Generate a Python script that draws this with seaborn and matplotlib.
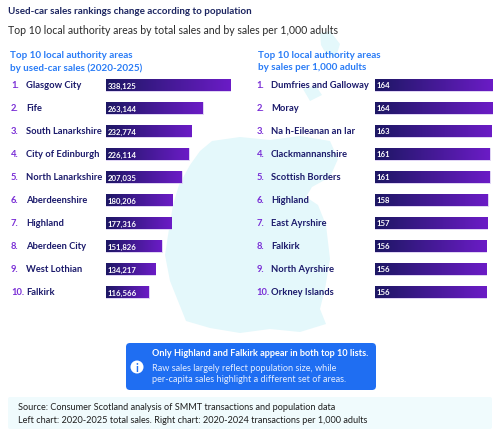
import numpy as np
import pandas as pd
import matplotlib
matplotlib.use("Agg")
import matplotlib.pyplot as plt
import seaborn as sns
from matplotlib.colors import LinearSegmentedColormap
from matplotlib.patches import FancyBboxPatch, Circle, Polygon
from matplotlib.transforms import blended_transform_factory

# ---------------- data ----------------
left_areas = ["Glasgow City", "Fife", "South Lanarkshire", "City of Edinburgh",
              "North Lanarkshire", "Aberdeenshire", "Highland", "Aberdeen City",
              "West Lothian", "Falkirk"]
left_sales = [338125, 263144, 232774, 226114, 207035, 180206, 177316, 151826,
              134217, 116566]

right_areas = ["Dumfries and Galloway", "Moray", "Na h-Eileanan an Iar",
               "Clackmannanshire", "Scottish Borders", "Highland", "East Ayrshire",
               "Falkirk", "North Ayrshire", "Orkney Islands"]
right_sales = [164, 164, 163, 161, 161, 158, 157, 156, 156, 156]

title = "Used-car sales rankings change according to population"
subtitle = "Top 10 local authority areas by total sales and by sales per 1,000 adults"
left_heading = ["Top 10 local authority areas", "by used-car sales (2020-2025)"]
right_heading = ["Top 10 local authority areas", "by sales per 1,000 adults"]
note_bold = "Only Highland and Falkirk appear in both top 10 lists."
note_text = "Raw sales largely reflect population size, while\nper-capita sales highlight a different set of areas."
source_lines = ["Source: Consumer Scotland analysis of SMMT transactions and population data",
                "Left chart: 2020-2025 total sales. Right chart: 2020-2024 transactions per 1,000 adults"]

# ---------------- style ----------------
sns.set_theme(style="white")
plt.rcParams["font.family"] = ["Lato", "DejaVu Sans"]

NAVY = "#1b1a6b"
PURPLE = "#7a2ed6"
BLUE_HEAD = "#2a7cf6"
cmap = LinearSegmentedColormap.from_list("grad", ["#1d1764", "#6b1cc6"])

W, H = 500, 439
fig = plt.figure(figsize=(W / 100, H / 100), dpi=100)
fig.patch.set_facecolor("white")
renderer = fig.canvas.get_renderer()


def fit(t, target_px):
    """Scale a text's font size so its rendered width matches target_px."""
    w = t.get_window_extent(renderer).width
    t.set_fontsize(t.get_fontsize() * target_px / w)
    return t


def fit_size(sample, target_px, bold=True, base=8.0):
    t = fig.text(0, 0, sample, fontsize=base, fontweight="bold" if bold else "normal")
    w = t.get_window_extent(renderer).width
    t.remove()
    return base * target_px / w


# background decoration axes in pixel coordinates
bg = fig.add_axes([0, 0, 1, 1], zorder=0)
bg.set_xlim(0, W)
bg.set_ylim(H, 0)
bg.axis("off")

MAPC = "#e4f8fb"
scot = [(212, 142), (240, 138), (270, 141), (300, 137), (330, 142), (338, 160),
        (330, 178), (312, 188), (306, 198), (318, 206), (326, 226), (330, 260),
        (325, 290), (320, 310), (326, 325), (300, 333), (270, 330), (240, 334),
        (210, 329), (186, 322), (178, 302), (170, 282), (165, 256), (169, 230),
        (173, 206), (179, 186), (190, 166), (200, 152)]
bg.add_patch(Polygon(scot, closed=True, facecolor=MAPC, edgecolor="none"))
bg.add_patch(Polygon([(320, 34), (330, 32), (340, 45), (336, 58), (326, 55), (321, 46)],
                     closed=True, facecolor=MAPC, edgecolor="none"))
bg.add_patch(Polygon([(303, 90), (316, 87), (322, 96), (310, 102)],
                     closed=True, facecolor=MAPC, edgecolor="none"))

# title texts
fit(fig.text(8 / W, 1 - 11 / H, title, fontsize=8, fontweight="bold", color="#1c2560",
             va="center", ha="left"), 246)
fit(fig.text(8 / W, 1 - 31 / H, subtitle, fontsize=7, color="#2b2b2b",
             va="center", ha="left"), 330)
hs = fit_size(left_heading[0], 123)
for k, (ly) in enumerate([55.5, 68]):
    fig.text(10 / W, 1 - ly / H, left_heading[k], fontsize=hs, fontweight="bold",
             color=BLUE_HEAD, va="center", ha="left")
    fig.text(258 / W, 1 - ly / H, right_heading[k], fontsize=hs, fontweight="bold",
             color=BLUE_HEAD, va="center", ha="left")

# info box
bg.add_patch(FancyBboxPatch((126, 344), 250, 47, boxstyle="round,pad=0,rounding_size=4",
                            facecolor="#1f6ef2", edgecolor="none"))
bg.add_patch(Circle((137, 368), 6.5, facecolor="white", edgecolor="none"))
bg.text(137, 368.5, "i", color="#1f6ef2", fontsize=8, fontweight="bold",
        ha="center", va="center")
fit(bg.text(152, 354, note_bold, color="white", fontsize=7, fontweight="bold",
            ha="left", va="center"), 217)
fit(bg.text(152, 374, note_text, color="#e4edff", fontsize=7, ha="left", va="center",
            linespacing=1.3), 195)

# source box
bg.add_patch(FancyBboxPatch((8, 398), 484, 32, boxstyle="round,pad=0,rounding_size=2",
                            facecolor="#f0fbfd", edgecolor="none"))
ss = fit_size(source_lines[1], 351, bold=False)
bg.text(18, 408, source_lines[0], color="#1e1e1e", fontsize=ss, ha="left", va="center")
bg.text(18, 421, source_lines[1], color="#1e1e1e", fontsize=ss, ha="left", va="center")

NAME_FS = fit_size("North Lanarkshire", 76)
VAL_FS = fit_size("338,125", 29)


def make_panel(x0_px, width_px, areas, values, xmax, rank_x, name_x, fmt):
    top = 74.5
    bottom = top + 23 * len(areas)
    ax = fig.add_axes([x0_px / W, 1 - bottom / H, width_px / W, (bottom - top) / H], zorder=2)
    df = pd.DataFrame({"area": areas, "value": values})
    sns.barplot(data=df, x="value", y="area", ax=ax, color="#3a1a90", width=0.48,
                orient="h")
    ax.patch.set_alpha(0)
    ax.axis("off")
    for p in ax.patches:
        x0, y0 = p.get_x(), p.get_y()
        w, h = p.get_width(), p.get_height()
        p.set_facecolor("none")
        p.set_edgecolor("#d9ccf2")
        p.set_linewidth(0.6)
        im = ax.imshow(np.linspace(0, 1, 256).reshape(1, -1), cmap=cmap, aspect="auto",
                       extent=[x0, x0 + w, y0 + h, y0], zorder=1, interpolation="bilinear")
        im.set_clip_path(p)
    ax.set_xlim(0, xmax)
    ax.set_ylim(len(areas) - 0.5, -0.5)
    for i, v in enumerate(values):
        ax.text(xmax * 0.012, i, fmt(v), color="white", fontsize=VAL_FS, fontweight="bold",
                ha="left", va="center", zorder=3)
    tr = blended_transform_factory(fig.transFigure, ax.transData)
    for i, a in enumerate(areas):
        ax.text(rank_x / W, i, f"{i + 1}.", color=PURPLE, fontsize=NAME_FS, fontweight="bold",
                ha="left", va="center", transform=tr, clip_on=False)
        ax.text(name_x / W, i, a, color=NAVY, fontsize=NAME_FS, fontweight="bold",
                ha="left", va="center", transform=tr, clip_on=False)
    return ax


make_panel(106, 124.7, left_areas, left_sales, 340000, 11, 26, lambda v: f"{v:,}")
make_panel(375, 121.3, right_areas, right_sales, 170, 256.5, 271, lambda v: f"{v}")

fig.savefig("out.png", dpi=100)
